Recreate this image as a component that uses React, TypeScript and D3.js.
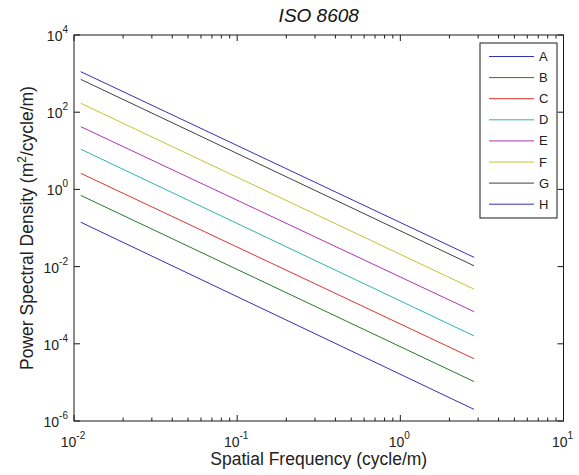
import * as d3 from "d3"

const classNames = ["A", "B", "C", "D", "E", "F", "G", "H"]
const lineColors = ["#3232b4", "#287a28", "#e03232", "#2eb4b4", "#b432b4", "#c4c432", "#404040", "#3232b4"]
const freqLimits = [0.011, 2.83]
const psdAtLow = [0.141, 0.7, 2.61, 11.0, 42.2, 170, 708, 1122]
const psdAtHigh = [2.0e-6, 1.05e-5, 4.1e-5, 1.6e-4, 6.8e-4, 2.6e-3, 1.05e-2, 1.74e-2]
const xExponents = [-2, -1, 0, 1]
const yExponents = [4, 2, 0, -2, -4, -6]

export default function App() {
    const width = 579
    const height = 475
    const margin = { top: 35, right: 15.5, bottom: 54, left: 74 }
    const x0 = margin.left
    const x1 = width - margin.right
    const y0 = margin.top
    const y1 = height - margin.bottom

    const x = d3.scaleLog().domain([0.01, 10]).range([x0, x1])
    const y = d3.scaleLog().domain([1e-6, 1e4]).range([y1, y0])

    const line = d3
        .line<{ n: number; v: number }>()
        .x((d) => x(d.n))
        .y((d) => y(d.v))

    const series = classNames.map((name, i) => ({
        name,
        color: lineColors[i],
        points: [
            { n: freqLimits[0], v: psdAtLow[i] },
            { n: freqLimits[1], v: psdAtHigh[i] },
        ],
    }))

    const xTicks = x.ticks()
    const font = "'Liberation Sans', Arial, sans-serif"
    const axisColor = "#1a1a1a"

    const legend = { left: 480, top: 43, w: 77, h: 175, row0: 56.5, rowStep: 21.1 }

    return (
        <div style={{ position: "absolute", left: 0, top: 0 }}>
            <svg width={width} height={height} style={{ display: "block", background: "#fff" }} fontFamily={font}>
                <rect x={0} y={0} width={width} height={height} fill="#fff" />

                {/* data lines */}
                {series.map((s) => (
                    <path key={s.name} d={line(s.points) || ""} fill="none" stroke={s.color} strokeWidth={1} />
                ))}

                {/* x ticks bottom & top */}
                {xTicks.map((t, i) => {
                    const major = Math.abs(Math.log10(t) - Math.round(Math.log10(t))) < 1e-9
                    const len = major ? 6 : 3.5
                    const px = x(t)
                    return (
                        <g key={i} stroke={axisColor} strokeWidth={1}>
                            <line x1={px} x2={px} y1={y1} y2={y1 - len} />
                            <line x1={px} x2={px} y1={y0} y2={y0 + len} />
                        </g>
                    )
                })}

                {/* y ticks left & right */}
                {yExponents.map((e) => {
                    const py = y(Math.pow(10, e))
                    return (
                        <g key={e} stroke={axisColor} strokeWidth={1}>
                            <line x1={x0} x2={x0 + 6} y1={py} y2={py} />
                            <line x1={x1} x2={x1 - 6} y1={py} y2={py} />
                        </g>
                    )
                })}

                {/* axes box */}
                <rect x={x0} y={y0} width={x1 - x0} height={y1 - y0} fill="none" stroke={axisColor} strokeWidth={1} />

                {/* x tick labels */}
                {xExponents.map((e) => (
                    <text key={e} x={x(Math.pow(10, e)) - 1} y={y1 + 26} fontSize={14} fill="#222" textAnchor="middle">
                        10
                        <tspan dy={-8} fontSize={10}>{e}</tspan>
                    </text>
                ))}

                {/* y tick labels */}
                {yExponents.map((e) => (
                    <text key={e} x={x0 - 6} y={y(Math.pow(10, e)) + 6} fontSize={14} fill="#222" textAnchor="end">
                        10
                        <tspan dy={-8} fontSize={10}>{e}</tspan>
                    </text>
                ))}

                {/* title */}
                <text x={(x0 + x1) / 2} y={22} fontSize={19} fontStyle="italic" textAnchor="middle" fill="#111">
                    ISO 8608
                </text>

                {/* x label */}
                <text x={(x0 + x1) / 2} y={465} fontSize={17.5} textAnchor="middle" fill="#222">
                    Spatial Frequency (cycle/m)
                </text>

                {/* y label */}
                <text
                    transform={`translate(33,${(y0 + y1) / 2}) rotate(-90)`}
                    fontSize={17.5}
                    textAnchor="middle"
                    fill="#222"
                >
                    Power Spectral Density (m
                    <tspan dy={-7} fontSize={12}>2</tspan>
                    <tspan dy={7}>/cycle/m)</tspan>
                </text>

                {/* legend */}
                <g>
                    <rect
                        x={legend.left}
                        y={legend.top}
                        width={legend.w}
                        height={legend.h}
                        fill="#fff"
                        stroke={axisColor}
                        strokeWidth={1}
                    />
                    {series.map((s, i) => {
                        const ry = legend.row0 + i * legend.rowStep
                        return (
                            <g key={s.name}>
                                <line x1={legend.left + 9} x2={legend.left + 54} y1={ry} y2={ry} stroke={s.color} strokeWidth={1} />
                                <text x={legend.left + 59} y={ry + 4.5} fontSize={13} fill="#222">
                                    {s.name}
                                </text>
                            </g>
                        )
                    })}
                </g>
            </svg>
        </div>
    )
}
